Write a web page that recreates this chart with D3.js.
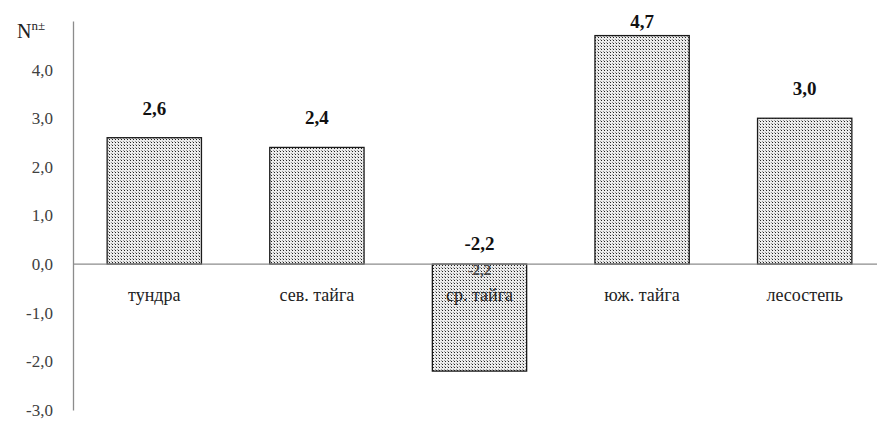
<!DOCTYPE html>
<html>
<head>
<meta charset="utf-8">
<script src="https://cdn.jsdelivr.net/npm/d3@7"></script>
<style>
  html, body { margin: 0; padding: 0; background: #fff; }
  svg { display: block; }
  svg text { font-family: "Liberation Serif", "Tinos", "Times New Roman", "Times", "Nimbus Roman", "FreeSerif", "Noto Serif", "DejaVu Serif", serif; }
</style>
</head>
<body>
<svg id="chart" width="877" height="422"></svg>
<script>
// Zones and their index values
const categories = ["тундра", "сев. тайга", "ср. тайга", "юж. тайга", "лесостепь"];
const values = [2.6, 2.4, -2.2, 4.7, 3.0];
const valueLabels = ["2,6", "2,4", "-2,2", "4,7", "3,0"];
const yTicks = [-3, -2, -1, 0, 1, 2, 3, 4];

const svg = d3.select("#chart");
const W = 877, H = 422;
const margin = { left: 73, right: -9, top: 21, bottom: 12 };

const x = d3.scaleBand()
  .domain(categories)
  .range([margin.left, W - margin.right])
  .paddingInner(0.42)
  .paddingOuter(0.21);

const y = d3.scaleLinear()
  .domain([-3, 5])
  .range([H - margin.bottom, margin.top]);

// Stippled fill for the bars
const defs = svg.append("defs");
const pat = defs.append("pattern")
  .attr("id", "dots")
  .attr("patternUnits", "userSpaceOnUse")
  .attr("width", 3).attr("height", 3);
pat.append("rect").attr("width", 3).attr("height", 3).attr("fill", "#ececec");
pat.append("rect").attr("x", 1).attr("y", 1).attr("width", 1).attr("height", 1).attr("fill", "#222");
pat.append("rect").attr("x", 0).attr("y", 0).attr("width", 1).attr("height", 1).attr("fill", "#999");

// Y axis
const yAxis = d3.axisLeft(y)
  .tickValues(yTicks)
  .tickSize(0)
  .tickPadding(20)
  .tickFormat(d => d3.format(".1f")(d).replace(".", ",").replace("−", "-"));

const gy = svg.append("g")
  .attr("transform", `translate(${margin.left},0)`)
  .call(yAxis);
gy.attr("font-family", null);
gy.select(".domain").attr("stroke", "#8c8c8c").attr("stroke-width", 1.3);
gy.selectAll("text")
  .attr("font-size", 17)
  .attr("fill", "#404040");

// Bars
svg.append("g").selectAll("rect")
  .data(values)
  .join("rect")
  .attr("x", (d, i) => x(categories[i]))
  .attr("width", x.bandwidth())
  .attr("y", d => y(Math.max(0, d)))
  .attr("height", d => Math.abs(y(d) - y(0)))
  .attr("fill", "url(#dots)")
  .attr("stroke", "#1a1a1a")
  .attr("stroke-width", 1.3);

// Zero line
svg.append("line")
  .attr("x1", margin.left).attr("x2", W)
  .attr("y1", y(0)).attr("y2", y(0))
  .attr("stroke", "#8c8c8c").attr("stroke-width", 1.3);

// Category labels just below the zero line
svg.append("g").selectAll("text")
  .data(categories)
  .join("text")
  .attr("x", d => x(d) + x.bandwidth() / 2)
  .attr("y", y(0) + 37)
  .attr("text-anchor", "middle")
  .attr("font-size", 18)
  .attr("fill", "#222")
  .text(d => d);

// Faint inner value label for the negative bar
svg.append("g").selectAll("text")
  .data(values.map((v, i) => ({ v, i })).filter(d => d.v < 0))
  .join("text")
  .attr("x", d => x(categories[d.i]) + x.bandwidth() / 2)
  .attr("y", y(0) + 11)
  .attr("text-anchor", "middle")
  .attr("font-size", 15)
  .attr("font-weight", "bold")
  .attr("fill", "#444")
  .text(d => valueLabels[d.i]);

// Value labels above the bars
svg.append("g").selectAll("text")
  .data(values)
  .join("text")
  .attr("x", (d, i) => x(categories[i]) + x.bandwidth() / 2)
  .attr("y", d => (d >= 0 ? Math.max(28, y(d) - 23) : y(0) - 14))
  .attr("text-anchor", "middle")
  .attr("font-size", 19)
  .attr("font-weight", "bold")
  .attr("fill", "#111")
  .text((d, i) => valueLabels[i]);

// Axis title
const title = svg.append("text")
  .attr("x", 17).attr("y", 38)
  .attr("font-size", 20)
  .attr("fill", "#222");
title.append("tspan").text("N");
title.append("tspan").attr("font-size", 13).attr("dy", -8).text("n±");
</script>
</body>
</html>
